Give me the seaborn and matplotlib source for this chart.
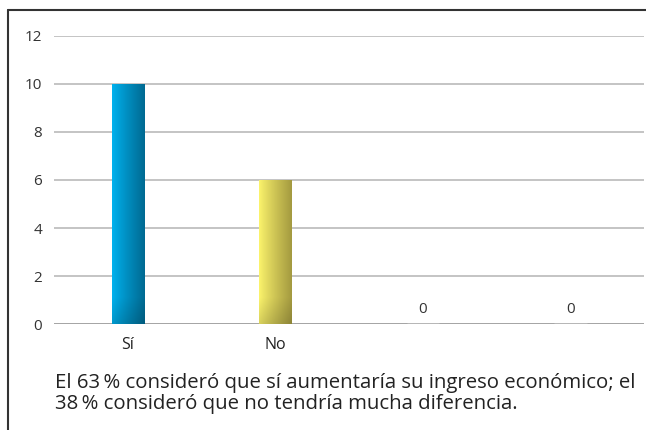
import numpy as np
import pandas as pd
import matplotlib
matplotlib.use("Agg")
import matplotlib.pyplot as plt
from matplotlib.colors import to_rgb
from matplotlib.lines import Line2D
import seaborn as sns

# datos del grafico
categorias = ["Sí", "No", " ", "  "]
valores = [10, 6, 0, 0]
color_claro = ["#00b2ef", "#fcf46c", "#00b2ef", "#fcf46c"]
color_oscuro = ["#006a92", "#a49a40", "#006a92", "#a49a40"]
nota = ("El 63\u2009% consideró que sí aumentaría su ingreso económico; el\n"
        "38\u2009% consideró que no tendría mucha diferencia.")

sns.set_style("white")
plt.rcParams['font.family'] = ['Open Sans', 'DejaVu Sans']

df = pd.DataFrame({"cat": categorias, "val": valores})

fig = plt.figure(figsize=(6.46, 4.30), dpi=100)
ax = fig.add_axes([0.0836, 0.2465, 0.9134, 0.6698])

sns.barplot(data=df, x="cat", y="val", ax=ax, width=0.22,
            color="#00b2ef", saturation=1, zorder=3)

ax.set_ylim(0, 12)
ax.set_yticks(range(0, 13, 2))
ax.yaxis.grid(True, color="#b4b4b4", linewidth=1.1, zorder=0)
ax.set_xlabel("")
ax.set_ylabel("")
for s in ax.spines.values():
    s.set_visible(False)
ax.axhline(0, color="#a0a0a0", linewidth=1.2, zorder=2)
ax.tick_params(axis="both", length=0, labelsize=11, colors="#333333")
ax.tick_params(axis="y", pad=8.5)
ax.tick_params(axis="x", pad=9)
ax.set_xticks(range(len(categorias)))
ax.set_xticklabels(["Sí", "No", "", ""], fontsize=11.5, color="#222222")

# barras con degradado
for i, p in enumerate(ax.patches):
    h = p.get_height()
    if h <= 0:
        continue
    x0 = p.get_x()
    w = p.get_width()
    c1 = np.array(to_rgb(color_claro[i]))
    c2 = np.array(to_rgb(color_oscuro[i]))
    ny, nx = 200, 60
    t = np.linspace(0, 1, nx) ** 0.9
    fila = c1[None, :] * (1 - t[:, None]) + c2[None, :] * t[:, None]
    img = np.repeat(fila[None, :, :], ny, axis=0)
    yy = np.linspace(0, h, ny)
    sombra = np.clip(1 - yy / 1.1, 0, 1)
    factor = 1 - 0.14 * sombra
    img = img * factor[:, None, None]
    im = ax.imshow(img, extent=[x0, x0 + w, 0, h], origin="lower",
                   aspect="auto", zorder=4, interpolation="bilinear")
    im.set_clip_path(p)
    p.set_visible(False)

ax.set_xlim(-0.5, len(categorias) - 0.5)
ax.set_aspect("auto")

# etiquetas de los ceros
for i, v in enumerate(valores):
    if v == 0:
        ax.annotate(str(v), (i, v), xytext=(0, 5), textcoords="offset points",
                    ha="center", va="bottom", fontsize=11, color="#333333")

# marco
fig.add_artist(Line2D([8 / 646, 8 / 646], [0, 1 - 10 / 430],
                      transform=fig.transFigure, color="#333333", linewidth=1.5))
fig.add_artist(Line2D([8 / 646, 1], [1 - 10 / 430, 1 - 10 / 430],
                      transform=fig.transFigure, color="#333333", linewidth=1.5))

fig.text(55 / 646, 1 - 373 / 430, nota, ha="left", va="top",
         fontsize=14.7, color="#222222", linespacing=1.08)

fig.savefig("out.png", dpi=100)
